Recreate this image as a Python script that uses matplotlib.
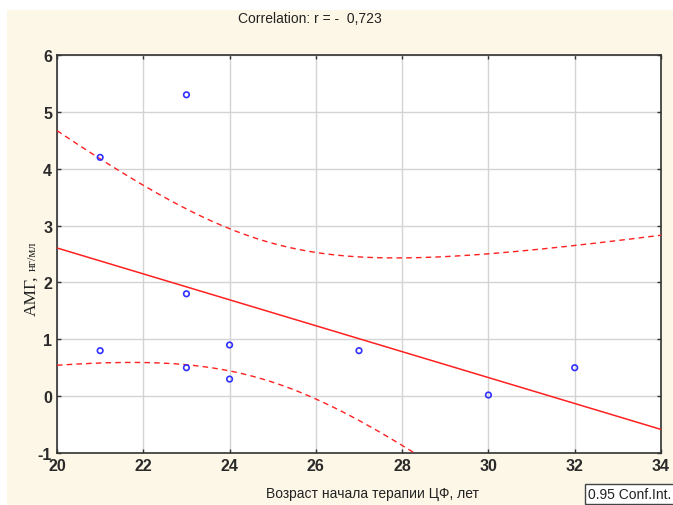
import numpy as np
import matplotlib
matplotlib.use("Agg")
import matplotlib.pyplot as plt
from matplotlib.patches import Rectangle

plt.rcParams['font.family'] = ['Liberation Sans', 'DejaVu Sans']
plt.rcParams['axes.unicode_minus'] = False

# Data
age_start = [21, 21, 23, 23, 23, 24, 24, 27, 30, 32]
amh = [4.2, 0.8, 5.3, 1.8, 0.5, 0.9, 0.3, 0.8, 0.02, 0.5]
x_ticks = [20, 22, 24, 26, 28, 30, 32, 34]
y_ticks = [-1, 0, 1, 2, 3, 4, 5, 6]
title_text = "Correlation: r = -  0,723"
t_crit = 2.306  # t(0.975, df=8)

x = np.array(age_start, dtype=float)
y = np.array(amh, dtype=float)
n = len(x)

# Linear fit and 0.95 confidence band for the mean
slope, intercept = np.polyfit(x, y, 1)
resid = y - (slope * x + intercept)
s = np.sqrt(np.sum(resid ** 2) / (n - 2))
sxx = np.sum((x - x.mean()) ** 2)
xs = np.linspace(20, 34, 300)
fit = slope * xs + intercept
half = t_crit * s * np.sqrt(1 / n + (xs - x.mean()) ** 2 / sxx)

fig = plt.figure(figsize=(6.73, 5.06), dpi=100)
fig.patch.set_facecolor('white')
bg = Rectangle((7 / 673, 0), 1, 1 - 11 / 506, transform=fig.transFigure,
               facecolor='#fdf7e7', edgecolor='none', zorder=-10)
fig.add_artist(bg)

ax = fig.add_axes([57 / 673, 1 - 454 / 506, (661 - 57) / 673, (454 - 56) / 506])
ax.set_facecolor('white')

ax.plot(xs, fit, color='#ff2020', lw=1.1, zorder=3)
ax.plot(xs, fit + half, color='#ff2020', lw=1.0, ls=(0, (4, 3)), zorder=3)
ax.plot(xs, fit - half, color='#ff2020', lw=1.0, ls=(0, (4, 3)), zorder=3)
ax.scatter(x, y, s=16, facecolors='none', edgecolors='#3030ff', linewidths=1.2, zorder=4)

ax.set_xlim(20, 34)
ax.set_ylim(-1, 6)
ax.set_xticks(x_ticks)
ax.set_yticks(y_ticks)
ax.grid(True, color='#d4d4d4', lw=1.0)
ax.set_axisbelow(True)
ax.tick_params(direction='in', length=3, width=1, top=True, right=True,
               labelsize=11.5, labelcolor='#2a2a2a', colors='#333333')
for lbl in ax.get_xticklabels() + ax.get_yticklabels():
    lbl.set_fontweight('bold')
for sp in ax.spines.values():
    sp.set_color('#333333')
    sp.set_linewidth(1.2)

fig.text(310 / 673, 1 - 19 / 506, title_text, ha='center', va='center', fontsize=10, color='#222222')
fig.text(373 / 673, 1 - 494 / 506, "Возраст начала терапии ЦФ, лет", ha='center', va='center',
         fontsize=10, color='#222222')

# y label: "АМГ," larger serif plus smaller "нг/мл"
fig.text(31 / 673, 1 - 296 / 506, "АМГ,", rotation=90, ha='center', va='center',
         fontsize=12.5, family='Liberation Serif', color='#222222')
fig.text(33 / 673, 1 - 256 / 506, "нг/мл", rotation=90, ha='center', va='center',
         fontsize=9, family='Liberation Serif', color='#222222')

fig.text(588 / 673, 1 - 495 / 506, "0.95 Conf.Int.", ha='left', va='center', fontsize=10,
         color='#222222',
         bbox=dict(boxstyle='square,pad=0.25', facecolor='white', edgecolor='#444444', lw=1))

fig.savefig('out.png', dpi=100)
